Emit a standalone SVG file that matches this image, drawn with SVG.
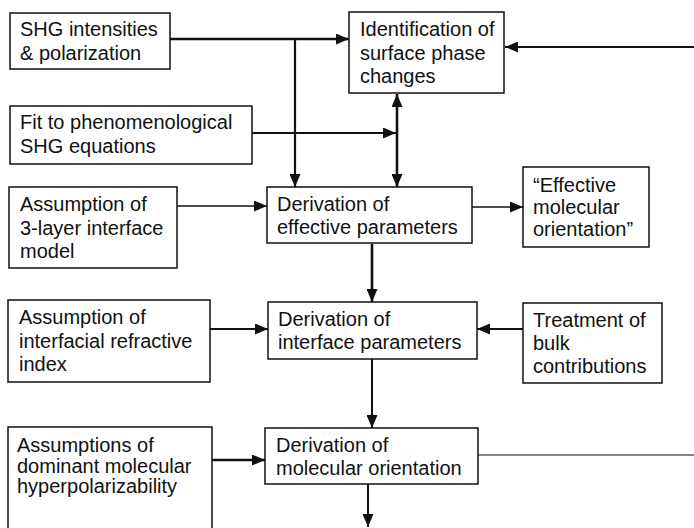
<svg xmlns="http://www.w3.org/2000/svg" width="694" height="528" viewBox="0 0 694 528">
<style>
  .box{fill:#fff;stroke:#111;stroke-width:1.5}
  .t{font-family:"Liberation Sans",Arial,Helvetica,sans-serif;font-size:20px;fill:#111}
  .c{fill:none;stroke:#111}
</style>
<defs>
  <marker id="ah" markerUnits="userSpaceOnUse" markerWidth="13" markerHeight="11" refX="13" refY="5.5" orient="auto-start-reverse" viewBox="0 0 13 11">
    <path d="M0,0 L13,5.5 L0,11 z" fill="#111"/>
  </marker>
</defs>
<rect width="694" height="528" fill="#fff"/>
<g id="connectors">
  <line class="c" x1="170" y1="39" x2="349" y2="39" stroke-width="2.6" marker-end="url(#ah)"/>
  <line class="c" x1="295" y1="39" x2="295" y2="187" stroke-width="2.2" marker-end="url(#ah)"/>
  <line class="c" x1="252" y1="133" x2="396" y2="133" stroke-width="2" marker-end="url(#ah)"/>
  <line class="c" x1="397" y1="94" x2="397" y2="187" stroke-width="2.6" marker-start="url(#ah)" marker-end="url(#ah)"/>
  <line class="c" x1="694" y1="47" x2="505" y2="47" stroke-width="2" marker-end="url(#ah)"/>
  <line class="c" x1="177" y1="206" x2="267" y2="206" stroke-width="1.6" marker-end="url(#ah)"/>
  <line class="c" x1="472" y1="207" x2="523" y2="207" stroke-width="1.5" marker-end="url(#ah)"/>
  <line class="c" x1="372" y1="244" x2="372" y2="302" stroke-width="2.6" marker-end="url(#ah)"/>
  <line class="c" x1="210" y1="329" x2="268" y2="329" stroke-width="1.8" marker-end="url(#ah)"/>
  <line class="c" x1="523" y1="329" x2="477" y2="329" stroke-width="2" marker-end="url(#ah)"/>
  <line class="c" x1="372" y1="359" x2="372" y2="428" stroke-width="2" marker-end="url(#ah)"/>
  <line class="c" x1="212" y1="460" x2="265" y2="460" stroke-width="2.6" marker-end="url(#ah)"/>
  <line class="c" x1="478" y1="455" x2="694" y2="455" stroke-width="1.2"/>
  <line class="c" x1="368" y1="484" x2="368" y2="527" stroke-width="2" marker-end="url(#ah)"/>
</g>
<g id="shg">
  <rect class="box" x="10" y="13" width="160" height="56"/>
  <text class="t" x="20" y="36">SHG intensities</text>
  <text class="t" x="20" y="60">&amp; polarization</text>
</g>
<g id="fit">
  <rect class="box" x="10" y="106" width="242" height="58"/>
  <text class="t" x="20" y="129">Fit to phenomenological</text>
  <text class="t" x="20" y="153">SHG equations</text>
</g>
<g id="identification">
  <rect class="box" x="349" y="12" width="155" height="81"/>
  <text class="t" x="360" y="36">Identification of</text>
  <text class="t" x="360" y="60">surface phase</text>
  <text class="t" x="360" y="83">changes</text>
</g>
<g id="threelayer">
  <rect class="box" x="9" y="187" width="168" height="81"/>
  <text class="t" x="20" y="211">Assumption of</text>
  <text class="t" x="20" y="235">3-layer interface</text>
  <text class="t" x="20" y="258">model</text>
</g>
<g id="effparams">
  <rect class="box" x="267" y="187" width="205" height="56"/>
  <text class="t" x="277" y="211">Derivation of</text>
  <text class="t" x="277" y="234">effective parameters</text>
</g>
<g id="effective">
  <rect class="box" x="523" y="167" width="126" height="80"/>
  <text class="t" x="533" y="192">“Effective</text>
  <text class="t" x="533" y="214">molecular</text>
  <text class="t" x="533" y="236">orientation”</text>
</g>
<g id="refractive">
  <rect class="box" x="8" y="300" width="202" height="82"/>
  <text class="t" x="19" y="324">Assumption of</text>
  <text class="t" x="19" y="348">interfacial refractive</text>
  <text class="t" x="19" y="371">index</text>
</g>
<g id="ifparams">
  <rect class="box" x="268" y="302" width="209" height="57"/>
  <text class="t" x="278" y="326">Derivation of</text>
  <text class="t" x="278" y="349">interface parameters</text>
</g>
<g id="bulk">
  <rect class="box" x="523" y="303" width="139" height="80"/>
  <text class="t" x="533" y="327">Treatment of</text>
  <text class="t" x="533" y="350">bulk</text>
  <text class="t" x="533" y="373">contributions</text>
</g>
<g id="hyperpol">
  <path class="box" d="M8,530 L8,427 L212,427 L212,530"/>
  <text class="t" x="17" y="452">Assumptions of</text>
  <text class="t" x="17" y="473">dominant molecular</text>
  <text class="t" x="17" y="493">hyperpolarizability</text>
</g>
<g id="molorient">
  <rect class="box" x="265" y="428" width="213" height="56"/>
  <text class="t" x="276" y="452">Derivation of</text>
  <text class="t" x="276" y="475">molecular orientation</text>
</g>
</svg>
